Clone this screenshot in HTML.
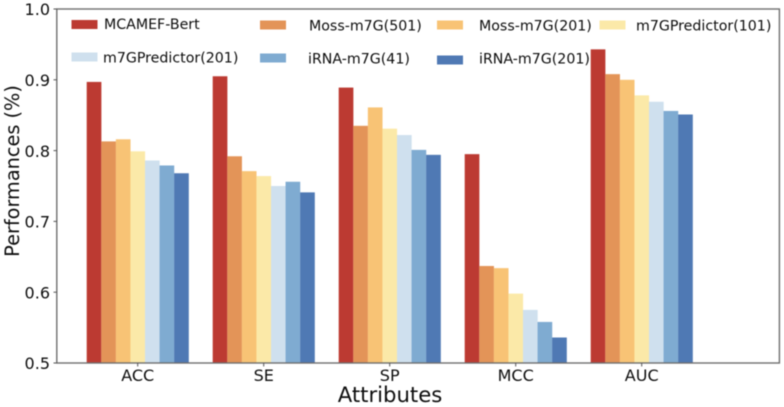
<!DOCTYPE html>
<html>
<head>
<meta charset="utf-8">
<style>
html,body{margin:0;padding:0;background:#fff;width:784px;height:407px;overflow:hidden}
svg{display:block;filter:blur(0.45px)}
text{font-family:"DejaVu Sans","Liberation Sans",sans-serif;fill:#0d0d0d}
</style>
</head>
<body>
<svg id="chart" width="784" height="407" viewBox="0 0 784 407" xmlns="http://www.w3.org/2000/svg">
  <g id="bars"></g>
  <rect x="56.8" y="9" width="722.6" height="354" fill="none" stroke="#6f6f6f" stroke-width="1.4"/>
  <g id="yticks"></g>
  <g id="xticks"></g>
  <text transform="translate(19,171) rotate(-90)" text-anchor="middle" font-size="19.3">Performances (%)</text>
  <text x="390" y="402" text-anchor="middle" font-size="21.2">Attributes</text>
  <g id="legend"></g>
</svg>
<script>
const categories = ['ACC', 'SE', 'SP', 'MCC', 'AUC'];
const seriesNames = ['MCAMEF-Bert', 'Moss-m7G(501)', 'Moss-m7G(201)', 'm7GPredictor(101)', 'm7GPredictor(201)', 'iRNA-m7G(41)', 'iRNA-m7G(201)'];
const mcamefBert = [0.897, 0.905, 0.889, 0.795, 0.943];
const moss501 = [0.813, 0.792, 0.835, 0.637, 0.908];
const moss201 = [0.816, 0.771, 0.861, 0.634, 0.900];
const predictor101 = [0.799, 0.764, 0.831, 0.598, 0.878];
const predictor201 = [0.786, 0.750, 0.822, 0.575, 0.869];
const irna41 = [0.779, 0.756, 0.801, 0.558, 0.856];
const irna201 = [0.768, 0.741, 0.794, 0.536, 0.851];
const yTickLabels = ['0.5', '0.6', '0.7', '0.8', '0.9', '1.0'];

const allSeries = [mcamefBert, moss501, moss201, predictor101, predictor201, irna41, irna201];
const colors = ['#bc3a32', '#e39458', '#f8c375', '#fbe9a8', '#cfe0ee', '#7fabd1', '#4f79b4'];
const NS = 'http://www.w3.org/2000/svg';
const plotBottom = 363, plotTop = 9, yMin = 0.5, yMax = 1.0;
const firstCenter = 137.7, groupStep = 126, barW = 14.57;
const yScale = v => plotBottom - (v - yMin) / (yMax - yMin) * (plotBottom - plotTop);
const xCenter = i => firstCenter + i * groupStep;

function node(tag, attrs, parent) {
  const el = document.createElementNS(NS, tag);
  for (const k in attrs) el.setAttribute(k, attrs[k]);
  parent.appendChild(el);
  return el;
}

const barsG = document.getElementById('bars');
allSeries.forEach((vals, s) => {
  vals.forEach((v, c) => {
    const r = node('rect', {
      x: xCenter(c) + (s - 3.5) * barW,
      y: yScale(v),
      width: barW + 0.1,
      height: plotBottom - yScale(v),
      fill: colors[s]
    }, barsG);
    
    
  });
});

const yG = document.getElementById('yticks');
yTickLabels.forEach(lab => {
  const y = yScale(parseFloat(lab));
  const tick = node('line', {x1: 53.5, x2: 56.8, y1: y, y2: y, stroke: '#555', 'stroke-width': 1}, yG);
  
  
  const t = node('text', {x: 50, y: y + 6.2, 'text-anchor': 'end', 'font-size': 16}, yG);
  
  
  t.textContent = lab;
});

const xG = document.getElementById('xticks');
categories.forEach((lab, i) => {
  const x = xCenter(i);
  const tick = node('line', {x1: x, x2: x, y1: 363, y2: 366.5, stroke: '#555', 'stroke-width': 1}, xG);
  
  
  const t = node('text', {x: x, y: 381, 'text-anchor': 'middle', 'font-size': 16}, xG);
  
  
  t.textContent = lab;
});

const legendX = [71.5, 260, 437, 599.5, 71.5, 260, 437];
const legendY = [24.5, 25, 25, 25, 57, 58, 60];
const legendTextX = [104, 309, 479, 636, 103, 308, 479];
const legendTextY = [29, 30.5, 30.5, 30.5, 62.5, 63.5, 63.5];
const legendG = document.getElementById('legend');
seriesNames.forEach((name, i) => {
  const swatch = node('rect', {x: legendX[i], y: legendY[i] - 4.5, width: 26, height: 9, fill: colors[i]}, legendG);
  
  
  const t = node('text', {x: legendTextX[i], y: legendTextY[i], 'font-size': 14.2}, legendG);
  
  
  t.textContent = name;
});
</script>
</body>
</html>
